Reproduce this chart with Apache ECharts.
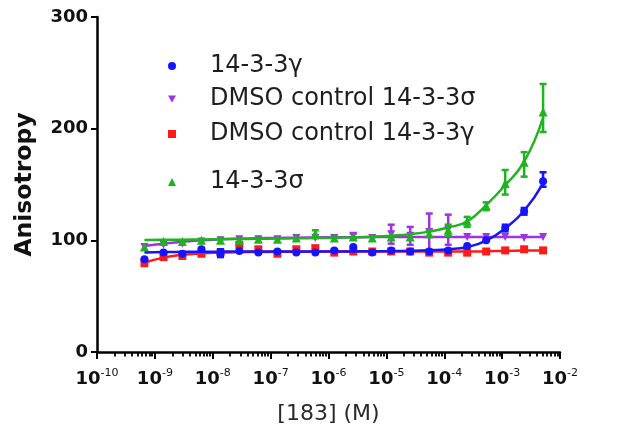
<!DOCTYPE html>
<html>
<head>
<meta charset="utf-8">
<script src="https://cdn.jsdelivr.net/npm/echarts@6/dist/echarts.min.js"></script>
<style>
  html, body { margin: 0; padding: 0; background: #fff; }
  #chart { width: 629px; height: 436px; }
</style>
</head>
<body>
<div id="chart"></div>
<script>
// Concentration of compound 183 (M), one entry per dilution
const conc = [6.6e-10, 1.41e-9, 2.99e-9, 6.37e-9, 1.36e-8, 2.88e-8, 6.14e-8, 1.31e-7, 2.78e-7, 5.92e-7,
              1.26e-6, 2.68e-6, 5.70e-6, 1.21e-5, 2.58e-5, 5.50e-5, 1.17e-4, 2.49e-4, 5.30e-4, 1.13e-3,
              2.40e-3, 5.10e-3];

// Mean anisotropy per series
const gammaVals     = [83, 89, 88, 92, 88, 90.5, 89, 90, 89, 89, 91, 94, 89, 91, 90, 90, 91, 95, 100, 111, 126, 153];
const dmsoSigmaVals = [94, 96, 97, 99, 100, 101, 101, 101, 102, 102, 102, 104, 102, 105.5, 104, 107.5, 109.5, 103, 103, 103, 102, 103];
const dmsoGammaVals = [80, 85, 86, 88, 89, 96, 92, 88, 92, 93, 89, 90, 90, 90, 90, 89, 89, 89, 90, 91, 92, 91];
const sigmaVals     = [94, 99, 99, 100, 100, 100, 101, 101, 102, 106, 102, 103, 102, 103, 103, 106, 109, 117, 131, 151, 170, 215];

// Fitted curves, sampled at the same concentrations
const gammaFit     = [89, 89.5, 89.7, 89.8, 89.9, 90, 90, 90, 90, 90, 90, 90.1, 90.2, 90.4, 90.7, 91.2, 92, 94, 99.7, 110.7, 126.5, 151];
const dmsoSigmaFit = [95, 97, 98.7, 100, 100.9, 101.5, 101.9, 102.2, 102.4, 102.6, 102.7, 102.8, 102.9, 103, 103, 103, 103, 103, 103, 103, 103, 103];
const dmsoGammaFit = [80, 84.5, 87, 88.3, 89, 89.4, 89.6, 89.7, 89.8, 89.9, 90, 90, 90, 90, 90, 90, 90, 90, 90.2, 90.5, 90.8, 91];
const sigmaFit     = [100.3, 100.5, 100.6, 100.8, 101, 101.2, 101.4, 101.6, 101.8, 102, 102.3, 102.7, 103.3, 104.2, 105.5, 107.8, 111.5, 117, 131.6, 149.5, 170.4, 210];

// Error bars: [dilution index, low, high]
const gammaErr     = [[4, 85, 92], [19, 108, 114], [20, 123, 129], [21, 148, 161]];
const dmsoSigmaErr = [[11, 102, 106], [13, 97, 114], [14, 96, 112], [15, 91, 124], [16, 96, 123]];
const dmsoGammaErr = [[0, 77, 83]];
const sigmaErr     = [[9, 102, 109], [15, 103, 109], [16, 104, 114], [17, 112, 121], [18, 127, 134],
                      [19, 141, 163], [20, 157, 179], [21, 197, 240]];

// Axis tick labels
const xExponents = [-10, -9, -8, -7, -6, -5, -4, -3, -2];
const yTicks = [0, 100, 200, 300];

const names = ['14-3-3γ', 'DMSO control 14-3-3σ', 'DMSO control 14-3-3γ', '14-3-3σ'];
const colors = ['#1414ff', '#a032e6', '#ff1a1a', '#1fb41f'];
const symbols = ['circle', 'triangle', 'rect', 'triangle'];
const rotations = [0, 180, 0, 0];
// Legend icons; the DMSO σ control uses a downward triangle
const legendIcons = ['circle', 'path://M0,0 L10,0 L5,9 Z', 'rect', 'triangle'];

// Minor ticks of the decade axis (2..9 within each decade), in log10 units
const minorTicks = [];
for (let d = -10; d < -2; d++) {
  for (let k = 2; k <= 9; k++) minorTicks.push(d + Math.log10(k));
}

const pairs = (vals) => conc.map((c, i) => [c, vals[i]]);
const errData = (err) => err.map(e => [conc[e[0]], e[1], e[2]]);

function errorSeries(name, err, color, z) {
  return {
    type: 'custom',
    name: name + ' error',
    xAxisIndex: 0,
    z: z,
    data: errData(err),
    encode: { x: 0, y: [1, 2] },
    renderItem: function (params, api) {
      const lo = api.coord([api.value(0), api.value(1)]);
      const hi = api.coord([api.value(0), api.value(2)]);
      const w = 3.5;
      const st = { stroke: color, lineWidth: 2.5 };
      return {
        type: 'group',
        children: [
          { type: 'line', shape: { x1: lo[0], y1: lo[1], x2: hi[0], y2: hi[1] }, style: st },
          { type: 'line', shape: { x1: lo[0] - w, y1: lo[1], x2: lo[0] + w, y2: lo[1] }, style: st },
          { type: 'line', shape: { x1: hi[0] - w, y1: hi[1], x2: hi[0] + w, y2: hi[1] }, style: st }
        ]
      };
    }
  };
}

function fitSeries(name, vals, color, z) {
  return {
    type: 'line', name: name + ' fit', xAxisIndex: 0, z: z,
    data: pairs(vals), smooth: true, showSymbol: false, symbol: 'none',
    lineStyle: { color: color, width: 2.5 }, silent: true
  };
}

function pointSeries(i, vals, size, z) {
  return {
    type: 'scatter', name: names[i], xAxisIndex: 0, z: z,
    data: pairs(vals), symbol: symbols[i], symbolRotate: rotations[i], symbolSize: size,
    itemStyle: { color: colors[i], opacity: 1 }
  };
}

// One legend block per entry, so each row sits at its own height
const legendTop = [54, 87, 122, 170];
const legends = names.map((n, i) => ({
  left: 168, top: legendTop[i], padding: 0, orient: 'vertical',
  itemWidth: 8, itemHeight: 8, itemGap: 0,
  selectedMode: false,
  data: [{ name: n, icon: legendIcons[i] }],
  textStyle: { fontFamily: 'DejaVu Sans', fontSize: 24, color: '#1e1e1e', lineHeight: 24, padding: [0, 0, 0, 29] }
}));

const chart = echarts.init(document.getElementById('chart'), null, { renderer: 'canvas' });
chart.setOption({
  animation: false,
  backgroundColor: '#ffffff',
  grid: { left: 97, right: 69, top: 17, bottom: 84, containLabel: false },
  legend: legends,
  xAxis: [
    {
      type: 'log', logBase: 10, min: 1e-10, max: 1e-2,
      position: 'bottom',
      name: '[183] (M)', nameLocation: 'middle', nameGap: 51,
      nameTextStyle: { fontFamily: 'DejaVu Sans', fontSize: 22, color: '#2a2a2a' },
      axisLine: { show: true, onZero: false, lineStyle: { color: '#000', width: 2.5 } },
      axisTick: { show: true, inside: false, length: 7, lineStyle: { color: '#000', width: 2 } },
      splitLine: { show: false },
      minorTick: { show: false },
      axisLabel: {
        interval: 0, margin: 16,
        formatter: function (v) {
          const e = Math.round(Math.log10(v));
          const k = xExponents.indexOf(e);
          return k < 0 ? '' : '{b|10}{s|' + xExponents[k] + '}';
        },
        rich: {
          b: { fontFamily: 'DejaVu Sans', fontWeight: 'bold', fontSize: 18, color: '#111', lineHeight: 22 },
          s: { fontFamily: 'DejaVu Sans', fontSize: 11, color: '#111', lineHeight: 12, verticalAlign: 'top' }
        }
      }
    },
    {
      type: 'value', min: -10, max: -2,
      position: 'bottom',
      axisLine: { show: false, onZero: false },
      axisLabel: { show: false },
      splitLine: { show: false },
      axisTick: { show: true, inside: false, length: 4.5, customValues: minorTicks, lineStyle: { color: '#000', width: 1.8 } }
    }
  ],
  yAxis: {
    type: 'value', min: 0, max: 300, interval: 100,
    name: 'Anisotropy', nameLocation: 'middle', nameGap: 60,
    nameTextStyle: { fontFamily: 'DejaVu Sans', fontWeight: 'bold', fontSize: 23.5, color: '#111' },
    axisLine: { show: true, lineStyle: { color: '#000', width: 2.5 } },
    axisTick: { show: true, inside: false, length: 6, lineStyle: { color: '#000', width: 2 } },
    splitLine: { show: false },
    axisLabel: {
      margin: 9,
      fontFamily: 'DejaVu Sans', fontWeight: 'bold', fontSize: 18, color: '#111',
      formatter: function (v) { return yTicks.indexOf(v) >= 0 ? String(v) : ''; }
    }
  },
  series: [
    fitSeries(names[1], dmsoSigmaFit, colors[1], 2),
    errorSeries(names[1], dmsoSigmaErr, colors[1], 2),
    pointSeries(1, dmsoSigmaVals, 8, 3),
    fitSeries(names[2], dmsoGammaFit, colors[2], 4),
    errorSeries(names[2], dmsoGammaErr, colors[2], 4),
    pointSeries(2, dmsoGammaVals, 8, 5),
    fitSeries(names[3], sigmaFit, colors[3], 6),
    errorSeries(names[3], sigmaErr, colors[3], 6),
    pointSeries(3, sigmaVals, 9, 7),
    fitSeries(names[0], gammaFit, colors[0], 8),
    errorSeries(names[0], gammaErr, colors[0], 8),
    pointSeries(0, gammaVals, 8, 9)
  ]
});
</script>
</body>
</html>
